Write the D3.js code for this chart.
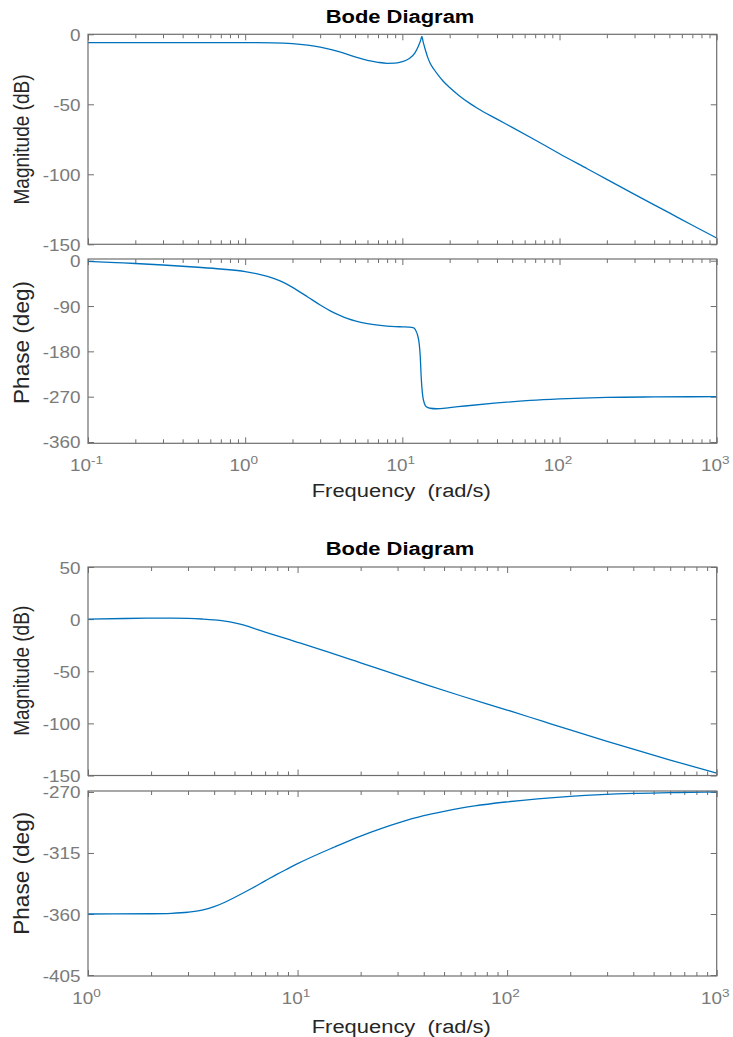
<!DOCTYPE html>
<html>
<head>
<meta charset="utf-8">
<script src="https://cdn.jsdelivr.net/npm/d3@7"></script>
<style>
  html, body { margin: 0; padding: 0; background: #fff; }
  svg { display: block; }
  text { font-family: "Liberation Sans", Arial, Helvetica, sans-serif; }
</style>
</head>
<body>
<svg id="chart" width="733" height="1037"></svg>
<script>
// ---- System 1: frequency response samples ----
const freq1Mag = [0.1, 0.3, 1, 1.5, 2, 2.5, 3, 4, 5, 6, 7, 8, 9, 10, 11, 12, 12.7, 13.1, 13.3, 13.6, 14, 14.5, 15, 16, 17, 18.2, 20, 23.1, 27, 30, 40, 50, 70, 100, 150, 200, 300, 500, 700, 1000];
const mag1 = [-6.0, -6.0, -6.0, -6.1, -6.6, -7.7, -9.1, -12.6, -16.2, -18.6, -20.0, -20.7, -20.6, -19.6, -17.5, -13.5, -8.0, -4.0, -1.5, -6.0, -11.0, -16.5, -20.5, -25.5, -29.5, -33.5, -38.0, -44.0, -49.5, -52.8, -60.6, -66.5, -75.5, -85.3, -96.0, -103.6, -114.3, -127.6, -136.4, -145.5];

const freq1Ph = [0.1, 0.15, 0.2, 0.3, 0.5, 0.7, 1, 1.25, 1.5, 1.75, 2, 2.5, 3, 3.5, 4, 4.5, 5, 6, 7, 8, 9, 10, 11, 11.7, 12.1, 12.5, 12.8, 13.0, 13.15, 13.3, 13.5, 13.8, 14.2, 15, 16.5, 20, 25, 40, 65, 100, 200, 400, 1000];
const phase1 = [-1.5, -3.8, -5.5, -8.5, -13, -16.5, -21.5, -27.5, -34.5, -43, -53, -72, -88, -100, -108.5, -115, -119.5, -125, -128, -129.8, -130.8, -131.3, -131.8, -133, -137, -148, -165, -190, -225, -250, -270, -283, -290, -293, -294, -291.7, -288.5, -282.5, -277.5, -274.5, -271.5, -270.5, -270];

// ---- System 2: frequency response samples ----
const freq2Mag = [1, 1.5, 2, 2.5, 3, 3.5, 4, 4.5, 5, 5.5, 6, 7, 8, 9, 10, 13, 15, 17.4, 20, 30, 41.3, 60, 100, 150, 200, 300, 400, 600, 1000];
const mag2 = [0, 0.6, 0.9, 0.95, 0.7, 0.1, -0.7, -1.9, -3.5, -5.5, -7.9, -12.4, -16.1, -19.3, -22.2, -29.5, -33.6, -37.8, -41.9, -53.7, -63.0, -73.5, -87.2, -98.4, -106.3, -117.2, -124.8, -135.2, -147.8];

const freq2Ph = [1, 2, 2.5, 3, 3.5, 4, 4.5, 5, 6, 7, 8, 9, 10, 15, 20, 25, 30, 40, 50, 60, 70, 100, 200, 400, 600, 1000];
const phase2 = [-360, -359.8, -359.5, -358.7, -357.2, -354.6, -351.3, -347.8, -341.4, -335.6, -330.6, -326.5, -322.9, -310.6, -302.5, -297.0, -293.0, -287.5, -284.3, -282.0, -280.3, -277.3, -273.2, -271.0, -270.5, -270.0];

// ---- Tick values ----
const xDecades1 = [-1, 0, 1, 2, 3];
const xDecades2 = [0, 1, 2, 3];
const magTicks1 = [0, -50, -100, -150];
const phaseTicks1 = [0, -90, -180, -270, -360];
const magTicks2 = [50, 0, -50, -100, -150];
const phaseTicks2 = [-270, -315, -360, -405];

const titleText = "Bode Diagram";
const xLabelText = "Frequency  (rad/s)";
const magLabel = "Magnitude (dB)";
const phaseLabel = "Phase (deg)";

// ---- Layout ----
const svg = d3.select("#chart");
const X_LEFT = 88, X_RIGHT = 716.7;
const STRETCH = 1.18;           // glyphs are rendered a little wide
const BOX = "#6e6e6e", TICKLBL = "#7a7a7a", LBL = "#262626", LINE = "#0072BD";

function minorTicks(lo, hi) {
  const out = [];
  for (let e = lo; e < hi; e++) for (let m = 2; m <= 9; m++) out.push(m * Math.pow(10, e));
  return out;
}

let clipId = 0;
function panel(cfg) {
  const x = d3.scaleLog().domain(cfg.xDomain).range([X_LEFT, X_RIGHT]);
  const y = d3.scaleLinear().domain(cfg.yDomain).range([cfg.bottom, cfg.top]);
  const g = svg.append("g");

  const majors = cfg.decades.map(e => Math.pow(10, e));
  const minors = minorTicks(cfg.decades[0], cfg.decades[cfg.decades.length - 1]);

  // ticks pointing into the plot on all four sides
  [[d3.axisBottom, cfg.bottom], [d3.axisTop, cfg.top]].forEach(([mk, yy]) => {
    g.append("g").attr("transform", `translate(0,${yy})`)
      .call(mk(x).tickValues(majors).tickSize(-6).tickFormat(""))
      .call(s => s.select(".domain").remove())
      .call(s => s.selectAll("line").attr("stroke", BOX).attr("stroke-width", 1));
    g.append("g").attr("transform", `translate(0,${yy})`)
      .call(mk(x).tickValues(minors).tickSize(-4).tickFormat(""))
      .call(s => s.select(".domain").remove())
      .call(s => s.selectAll("line").attr("stroke", BOX).attr("stroke-width", 1));
  });
  g.append("g").attr("transform", `translate(${X_LEFT},0)`)
    .call(d3.axisLeft(y).tickValues(cfg.yTicks).tickSize(-6).tickFormat(""))
    .call(s => s.select(".domain").remove())
    .call(s => s.selectAll("line").attr("stroke", BOX));
  g.append("g").attr("transform", `translate(${X_RIGHT},0)`)
    .call(d3.axisRight(y).tickValues(cfg.yTicks).tickSize(-6).tickFormat(""))
    .call(s => s.select(".domain").remove())
    .call(s => s.selectAll("line").attr("stroke", BOX));

  // response curve, clipped to the axes box
  const id = "clip" + (clipId++);
  svg.append("clipPath").attr("id", id).append("rect")
    .attr("x", X_LEFT).attr("y", cfg.top)
    .attr("width", X_RIGHT - X_LEFT).attr("height", cfg.bottom - cfg.top);
  const pts = cfg.f.map((f, i) => [f, cfg.v[i]]);
  g.append("path").datum(pts)
    .attr("clip-path", `url(#${id})`)
    .attr("fill", "none").attr("stroke", LINE).attr("stroke-width", 1.3)
    .attr("stroke-linejoin", "round")
    .attr("d", d3.line().x(d => x(d[0])).y(d => y(d[1])).curve(d3.curveMonotoneX));

  // axes box
  g.append("rect").attr("x", X_LEFT).attr("y", cfg.top)
    .attr("width", X_RIGHT - X_LEFT).attr("height", cfg.bottom - cfg.top)
    .attr("fill", "none").attr("stroke", BOX).attr("stroke-width", 1.2);

  // y tick labels
  cfg.yTicks.forEach(t => {
    g.append("text")
      .attr("transform", `translate(80.5,${y(t) + 6.5}) scale(${STRETCH},1)`)
      .attr("text-anchor", "end").attr("font-size", 16).attr("fill", TICKLBL)
      .text(t);
  });

  // y axis label
  g.append("text")
    .attr("transform", `translate(28.5,${cfg.labelCenter}) scale(${STRETCH},1) rotate(-90)`)
    .attr("text-anchor", "middle").attr("font-size", 18.6).attr("fill", LBL)
    .attr("textLength", cfg.labelLen).attr("lengthAdjust", "spacingAndGlyphs")
    .text(cfg.label);

  // decade labels 10^n under the lower panel
  if (cfg.xLabels) {
    cfg.decades.forEach(e => {
      const t = g.append("text")
        .attr("transform", `translate(${x(Math.pow(10, e)) - 1.5},${cfg.bottom + 27.5}) scale(${STRETCH},1)`)
        .attr("text-anchor", "middle").attr("font-size", 16).attr("fill", TICKLBL);
      t.append("tspan").text("10");
      t.append("tspan").attr("font-size", 11.5).attr("dy", -7).text(String(e));
    });
  }
  return { x, y };
}

function figure(o) {
  svg.append("text")
    .attr("transform", `translate(400,${o.titleBase}) scale(${STRETCH},1)`)
    .attr("text-anchor", "middle").attr("font-size", 18.6).attr("font-weight", "bold").attr("fill", "#000")
    .text(titleText);

  panel({ xDomain: o.xDomain, decades: o.decades, top: o.mag.top, bottom: o.mag.bottom,
          yDomain: o.mag.domain, yTicks: o.mag.ticks, f: o.mag.f, v: o.mag.v,
          label: magLabel, labelCenter: o.mag.labelCenter, labelLen: 130 });
  panel({ xDomain: o.xDomain, decades: o.decades, top: o.ph.top, bottom: o.ph.bottom,
          yDomain: o.ph.domain, yTicks: o.ph.ticks, f: o.ph.f, v: o.ph.v,
          label: phaseLabel, labelCenter: o.ph.labelCenter, labelLen: 123, xLabels: true });

  svg.append("text")
    .attr("transform", `translate(401.3,${o.xLabelBase}) scale(${STRETCH},1)`)
    .attr("text-anchor", "middle").attr("font-size", 18.6).attr("fill", LBL)
    .style("white-space", "pre")
    .text(xLabelText);
}

figure({
  titleBase: 23.3, xLabelBase: 496.7,
  xDomain: [0.1, 1000], decades: xDecades1,
  mag: { top: 34.3, bottom: 244.3, domain: [-150, 0], ticks: magTicks1, f: freq1Mag, v: mag1, labelCenter: 139.5 },
  ph:  { top: 259, bottom: 443.3, domain: [-362.6, 3.4], ticks: phaseTicks1, f: freq1Ph, v: phase1, labelCenter: 342.5 }
});

figure({
  titleBase: 555, xLabelBase: 1033.3,
  xDomain: [1, 1000], decades: xDecades2,
  mag: { top: 567, bottom: 775.5, domain: [-150, 50], ticks: magTicks2, f: freq2Mag, v: mag2, labelCenter: 670.8 },
  ph:  { top: 791, bottom: 976, domain: [-405.7, -269.3], ticks: phaseTicks2, f: freq2Ph, v: phase2, labelCenter: 873.3 }
});
</script>
</body>
</html>
